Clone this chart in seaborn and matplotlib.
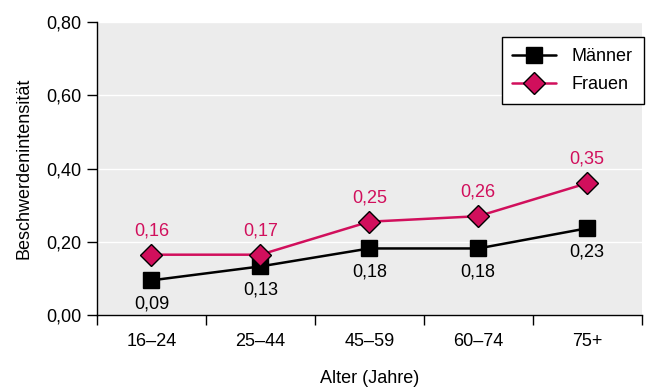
import pandas as pd
import matplotlib.pyplot as plt
import seaborn as sns
from matplotlib.ticker import FixedLocator

# =========================
# Daten
# =========================
altersgruppen = ['16–24', '25–44', '45–59', '60–74', '75+']
maenner = [0.095, 0.133, 0.182, 0.182, 0.237]
frauen = [0.165, 0.165, 0.255, 0.270, 0.360]
maenner_labels = ['0,09', '0,13', '0,18', '0,18', '0,23']
frauen_labels = ['0,16', '0,17', '0,25', '0,26', '0,35']
y_ticks = [0.0, 0.2, 0.4, 0.6, 0.8]
y_ticklabels = ['0,00', '0,20', '0,40', '0,60', '0,80']

pink = '#d10f5c'
fs = 13

df = pd.DataFrame({
    'Alter': altersgruppen * 2,
    'Wert': maenner + frauen,
    'Geschlecht': ['Männer'] * 5 + ['Frauen'] * 5,
})

sns.set_style('white')
plt.rcParams['font.family'] = ['Liberation Sans', 'DejaVu Sans']
plt.rcParams['text.color'] = 'black'
plt.rcParams['xtick.color'] = 'black'
plt.rcParams['ytick.color'] = 'black'
plt.rcParams['axes.labelcolor'] = 'black'

fig = plt.figure(figsize=(6.53, 3.92), dpi=100)
ax = fig.add_axes([0.1485, 0.196, 0.834, 0.748])
ax.set_facecolor('#ececec')

sns.lineplot(data=df, x='Alter', y='Wert', hue='Geschlecht', style='Geschlecht',
             palette={'Männer': 'black', 'Frauen': pink},
             markers={'Männer': 's', 'Frauen': 'D'},
             dashes={'Männer': '', 'Frauen': ''},
             linewidth=1.8, markersize=11, markeredgecolor='black',
             markeredgewidth=1.0, ax=ax, zorder=3)

# Datenbeschriftungen
for i, (m, lab) in enumerate(zip(maenner, maenner_labels)):
    ax.annotate(lab, (i, m), xytext=(0, -11), textcoords='offset points',
                ha='center', va='top', fontsize=fs, color='black')
for i, (f, lab) in enumerate(zip(frauen, frauen_labels)):
    ax.annotate(lab, (i, f), xytext=(0, 11), textcoords='offset points',
                ha='center', va='bottom', fontsize=fs, color=pink)

# Achsen
ax.set_xlim(-0.5, 4.5)
ax.set_ylim(0, 0.8)
ax.set_yticks(y_ticks)
ax.set_yticklabels(y_ticklabels, fontsize=fs)
ax.set_xticks(range(len(altersgruppen)))
ax.set_xticklabels(altersgruppen, fontsize=fs)
ax.xaxis.set_minor_locator(FixedLocator([-0.5, 0.5, 1.5, 2.5, 3.5, 4.5]))
ax.tick_params(axis='x', which='major', length=0, pad=13)
ax.tick_params(axis='x', which='minor', length=7, width=1, color='black', direction='out', bottom=True)
ax.tick_params(axis='y', length=7, width=1, color='black', direction='out', left=True, pad=4)

ax.grid(axis='y', color='white', linewidth=1)
ax.set_axisbelow(True)

for s in ['top', 'right']:
    ax.spines[s].set_visible(False)
for s in ['left', 'bottom']:
    ax.spines[s].set_color('black')
    ax.spines[s].set_linewidth(1)

ax.set_xlabel('Alter (Jahre)', fontsize=fs, labelpad=14)
ax.set_ylabel('Beschwerdenintensität', fontsize=fs, labelpad=10)

leg = ax.legend(loc='upper right', bbox_to_anchor=(1.004, 0.948), borderaxespad=0,
                fontsize=fs, frameon=True, fancybox=False, edgecolor='black', framealpha=1,
                handlelength=2.4, handletextpad=0.9, borderpad=0.6, labelspacing=0.6)
leg.get_frame().set_linewidth(1)

plt.savefig('out.png', dpi=100)
